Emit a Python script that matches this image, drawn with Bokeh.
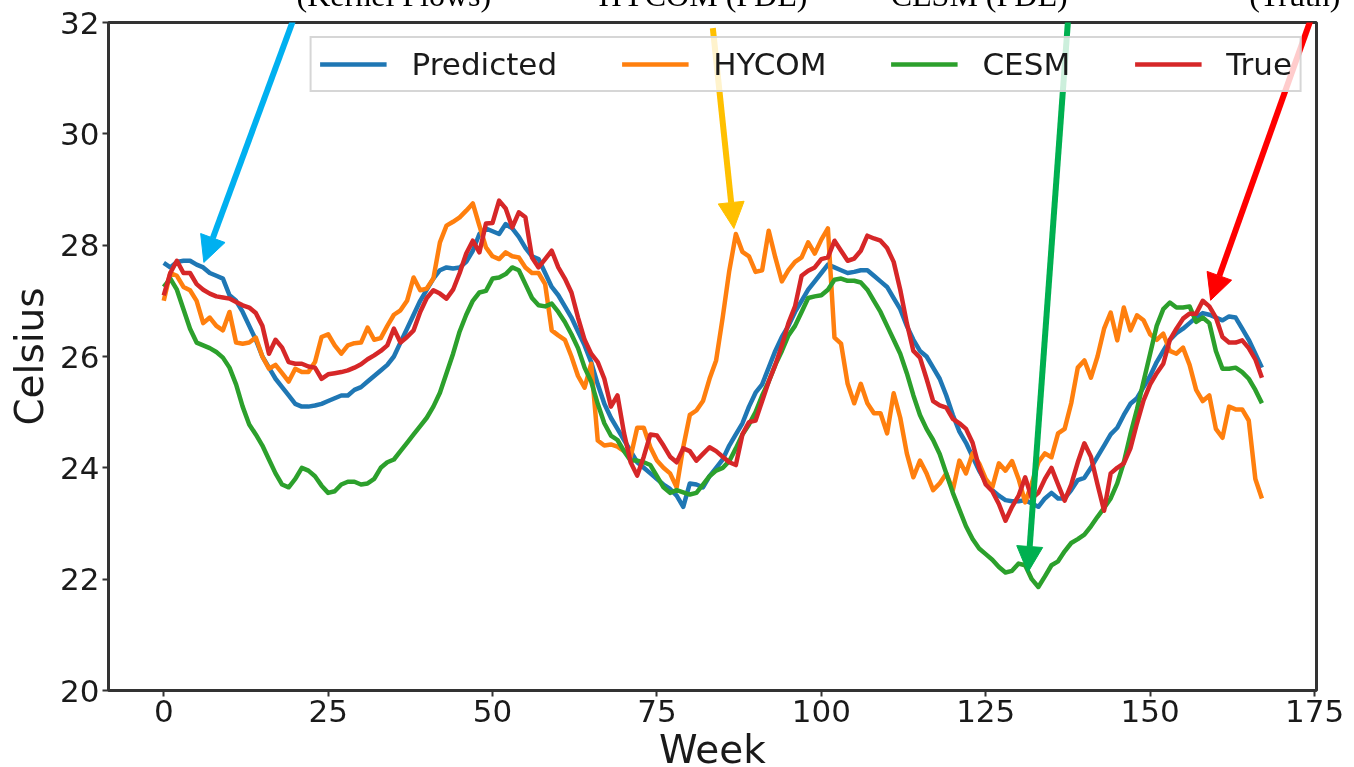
from bokeh.plotting import figure
from bokeh.models import Range1d, Arrow, NormalHead, FixedTicker, Legend, LegendItem, LinearAxis
from bokeh.embed import file_html
from bokeh.resources import INLINE

weeks = list(range(168))

predicted = [
    27.68, 27.6, 27.7, 27.72, 27.72, 27.65, 27.6, 27.5, 27.45, 27.4,
    27.1, 27.0, 26.8, 26.55, 26.3, 26.0, 25.8, 25.6, 25.45, 25.3,
    25.15, 25.1, 25.1, 25.12, 25.15, 25.2, 25.25, 25.3, 25.3, 25.4,
    25.45, 25.55, 25.65, 25.75, 25.85, 26.0, 26.25, 26.5, 26.75, 27.0,
    27.2, 27.4, 27.55, 27.6, 27.58, 27.6, 27.7, 27.9, 28.2, 28.3,
    28.25, 28.2, 28.38, 28.3, 28.15, 27.95, 27.8, 27.75, 27.5, 27.25,
    27.1, 26.9, 26.7, 26.45, 26.2, 25.9, 25.5, 25.15, 24.9, 24.7,
    24.5, 24.3, 24.1, 24.0, 23.9, 23.8, 23.7, 23.62, 23.5, 23.3,
    23.72, 23.7, 23.65, 23.85, 24.0, 24.15, 24.4, 24.6, 24.8, 25.1,
    25.35, 25.5, 25.8, 26.1, 26.35, 26.55, 26.8, 27.0, 27.2, 27.35,
    27.5, 27.65, 27.6, 27.55, 27.5, 27.52, 27.55, 27.55, 27.45, 27.35,
    27.25, 27.05, 26.85, 26.55, 26.3, 26.1, 26.0, 25.8, 25.6, 25.3,
    24.95, 24.65, 24.45, 24.2, 23.95, 23.75, 23.6, 23.5, 23.42, 23.4,
    23.4, 23.42, 23.36, 23.3, 23.45, 23.55, 23.45, 23.45, 23.6, 23.78,
    23.82, 24.0, 24.2, 24.4, 24.6, 24.72, 24.95, 25.15, 25.25, 25.45,
    25.65, 25.9, 26.1, 26.3, 26.42, 26.5, 26.6, 26.7, 26.78, 26.75,
    26.7, 26.65, 26.72, 26.7, 26.5, 26.3, 26.05, 25.8,
]

hycom = [
    27.0, 27.5, 27.45, 27.25, 27.19, 27.0, 26.6, 26.7, 26.55, 26.47,
    26.8, 26.25, 26.23, 26.25, 26.34, 26.0, 25.78, 25.85, 25.7, 25.55,
    25.78, 25.72, 25.72, 25.9, 26.35, 26.4, 26.2, 26.05, 26.2, 26.24,
    26.25, 26.52, 26.3, 26.33, 26.55, 26.75, 26.83, 27.0, 27.42, 27.19,
    27.22, 27.4, 28.05, 28.35, 28.42, 28.5, 28.62, 28.75, 28.35, 27.96,
    27.8, 27.75, 27.87, 27.8, 27.78, 27.6, 27.5, 27.5, 27.3, 26.47,
    26.38, 26.3, 26.0, 25.65, 25.44, 25.87, 24.49, 24.4, 24.42, 24.38,
    24.3, 24.2, 24.72, 24.72, 24.37, 24.13, 24.0, 23.9, 23.65, 24.37,
    24.95, 25.03, 25.2, 25.6, 25.93, 26.7, 27.54, 28.2, 27.88, 27.8,
    27.52, 27.55, 28.26, 27.78, 27.35, 27.55, 27.7, 27.78, 28.05, 27.85,
    28.1, 28.3, 26.34, 26.23, 25.51, 25.16, 25.51, 25.16, 24.98, 24.98,
    24.62, 25.34, 24.9, 24.26, 23.83, 24.13, 23.9, 23.6, 23.72, 23.9,
    23.6, 24.13, 23.9, 24.26, 24.08, 23.8, 23.65, 24.08, 23.95, 24.12,
    23.8, 23.38, 23.72, 24.1, 24.26, 24.19, 24.62, 24.7, 25.16, 25.8,
    25.93, 25.62, 26.0, 26.5, 26.79, 26.29, 26.88, 26.47, 26.74, 26.65,
    26.4, 26.3, 26.41, 26.1, 26.05, 26.16, 25.85, 25.4, 25.2, 25.3,
    24.7, 24.54, 25.1, 25.05, 25.05, 24.85, 23.8, 23.45,
]

cesm = [
    27.25, 27.4, 27.2, 26.85, 26.5, 26.25, 26.2, 26.15, 26.08, 25.98,
    25.8, 25.5, 25.1, 24.78, 24.6, 24.4, 24.15, 23.9, 23.7, 23.65,
    23.8, 24.0, 23.95, 23.85, 23.68, 23.55, 23.58, 23.7, 23.75, 23.75,
    23.7, 23.72, 23.8, 24.0, 24.1, 24.15, 24.3, 24.45, 24.6, 24.75,
    24.9, 25.1, 25.35, 25.7, 26.05, 26.45, 26.75, 27.0, 27.15, 27.18,
    27.4, 27.42, 27.48, 27.6, 27.55, 27.3, 27.05, 26.92, 26.9, 26.95,
    26.8, 26.62, 26.4, 26.15, 25.8, 25.55, 25.15, 24.8, 24.58, 24.5,
    24.3, 24.13, 24.13, 24.1, 24.05, 23.85, 23.65, 23.55, 23.6, 23.56,
    23.52, 23.55, 23.7, 23.85, 23.95, 24.0, 24.12, 24.35, 24.6, 24.78,
    25.0, 25.3, 25.55, 25.85, 26.1, 26.38, 26.55, 26.8, 27.05, 27.08,
    27.1, 27.2, 27.38, 27.4, 27.36, 27.36, 27.33, 27.2, 27.0, 26.8,
    26.55, 26.3, 26.05, 25.7, 25.3, 24.95, 24.7, 24.5, 24.25, 23.9,
    23.55, 23.25, 22.95, 22.72, 22.55, 22.45, 22.35, 22.22, 22.12, 22.15,
    22.28, 22.25, 22.0, 21.86, 22.05, 22.25, 22.32, 22.5, 22.65, 22.72,
    22.8, 22.95, 23.12, 23.28, 23.45, 23.72, 24.1, 24.6, 25.05, 25.55,
    26.05, 26.55, 26.85, 26.97, 26.88, 26.88, 26.9, 26.62, 26.7, 26.6,
    26.1, 25.78, 25.78, 25.8, 25.72, 25.6, 25.4, 25.16,
]

true_vals = [
    27.1, 27.5, 27.72, 27.5, 27.5, 27.3, 27.2, 27.13, 27.08, 27.06,
    27.04, 26.98, 26.92, 26.88, 26.78, 26.55, 26.05, 26.3, 26.16, 25.9,
    25.87, 25.87, 25.82, 25.8, 25.6, 25.68, 25.7, 25.72, 25.75, 25.8,
    25.86, 25.95, 26.02, 26.1, 26.2, 26.5, 26.25, 26.35, 26.47, 26.8,
    27.05, 27.19, 27.13, 27.04, 27.2, 27.5, 27.85, 28.08, 27.87, 28.39,
    28.4, 28.8, 28.66, 28.32, 28.59, 28.5, 27.78, 27.6, 27.75, 27.9,
    27.6, 27.4, 27.15, 26.7, 26.3, 26.05, 25.9, 25.6, 25.1, 25.3,
    24.62, 24.1, 23.86, 24.2, 24.6, 24.58, 24.4, 24.2, 24.1, 24.35,
    24.3, 24.13, 24.25, 24.37, 24.3, 24.2, 24.1, 24.05, 24.6, 24.82,
    24.85, 25.2, 25.55, 25.85, 26.2, 26.6, 26.9, 27.45, 27.54, 27.6,
    27.75, 27.78, 28.08, 27.9, 27.72, 27.76, 27.9, 28.17, 28.12, 28.08,
    27.95, 27.7, 27.2, 26.6, 26.1, 25.98, 25.6, 25.2, 25.12, 25.08,
    24.88, 24.8, 24.7, 24.45, 24.0, 23.7, 23.58, 23.35, 23.05, 23.3,
    23.5, 23.83, 23.45, 23.55, 23.8, 24.0, 23.7, 23.41, 23.7, 24.1,
    24.44, 24.2, 23.7, 23.23, 23.9, 24.0, 24.08, 24.35, 24.8, 25.21,
    25.5, 25.7, 25.87, 26.3, 26.5, 26.68, 26.77, 26.77, 27.0, 26.9,
    26.7, 26.35, 26.25, 26.25, 26.29, 26.15, 25.95, 25.62,
]

series_names = ["Predicted", "HYCOM", "CESM", "True"]
series_colors = ["#1f77b4", "#ff7f0e", "#2ca02c", "#d62728"]
x_ticks = [0, 25, 50, 75, 100, 125, 150, 175]
y_ticks = [20, 22, 24, 26, 28, 30, 32]

# callouts: caption text, caption centre (week), arrow start, arrow tip, colour
callout_texts = ["(Kernel Flows)", "HYCOM (PDE)", "CESM (PDE)", "(Truth)"]
callout_centres = [35, 82, 124, 172]
arrow_starts = [(20.8, 32.4), (83.5, 31.9), (137.6, 32.18), (175.2, 32.31)]
arrow_tips = [(6.1, 27.69), (86.7, 28.3), (131.4, 22.12), (159.2, 27.01)]
arrow_colors = ["#00b0f0", "#ffc000", "#00b050", "#ff0000"]

HIDDEN_TOP = 30     # strip of the figure pushed above the window
HIDDEN_BOTTOM = 24  # strip of the figure below the window

p = figure(width=1354, height=767 + HIDDEN_TOP + HIDDEN_BOTTOM, output_backend="svg",
           toolbar_location=None,
           x_range=Range1d(-8.4, 175.3), y_range=Range1d(20, 32),
           min_border_left=108, min_border_right=38, min_border_top=22 + HIDDEN_TOP,
           min_border_bottom=77 + HIDDEN_BOTTOM)
p.styles = {"position": "fixed", "top": f"-{HIDDEN_TOP}px", "left": "0px"}
p.background_fill_color = "white"
p.border_fill_color = "white"
p.outline_line_color = "#333333"
p.outline_line_width = 3
p.xgrid.visible = False
p.ygrid.visible = False

for ax in (p.xaxis[0], p.yaxis[0]):
    ax.axis_line_color = None
    ax.major_tick_line_color = "#333333"
    ax.major_tick_line_width = 2
    ax.major_tick_out = 6
    ax.major_tick_in = 0
    ax.minor_tick_line_color = None
    ax.major_label_text_font = "DejaVu Sans"
    ax.major_label_text_font_size = "31px"
    ax.major_label_text_color = "#1a1a1a"
    ax.axis_label_text_font = "DejaVu Sans"
    ax.axis_label_text_font_size = "39px"
    ax.axis_label_text_font_style = "normal"
    ax.axis_label_text_color = "#1a1a1a"
p.xaxis.ticker = FixedTicker(ticks=x_ticks)
p.yaxis.ticker = FixedTicker(ticks=y_ticks)
p.xaxis.major_label_standoff = 3
p.yaxis.major_label_standoff = 3
p.xaxis.axis_label = "Week"
p.yaxis.axis_label = "Celsius"
p.xaxis.axis_label_standoff = 2
p.yaxis.axis_label_standoff = 5

# captions above the frame (cut off by the window top, as in the reference)
top_axis = LinearAxis(ticker=FixedTicker(ticks=callout_centres),
                      major_label_overrides={c: t for c, t in zip(callout_centres, callout_texts)},
                      axis_line_color=None, major_tick_line_color=None, minor_tick_line_color=None,
                      major_label_text_font="Liberation Serif", major_label_text_font_size="32px",
                      major_label_text_color="black", major_label_standoff=4)
p.add_layout(top_axis, "above")

renderers = []
for name, col, vals in zip(series_names, series_colors, [predicted, hycom, cesm, true_vals]):
    r = p.line(weeks, vals, line_color=col, line_width=4.5, line_join="round")
    renderers.append((name, r))

legend = Legend(items=[LegendItem(label=n, renderers=[r]) for n, r in renderers],
                orientation="horizontal", location="top_right",
                label_text_font="DejaVu Sans", label_text_font_size="31px",
                label_text_color="#1a1a1a",
                glyph_width=67, glyph_height=30, label_standoff=25, spacing=64,
                padding=8, margin=14, label_height=32,
                border_line_color="#cccccc", border_line_width=2, border_line_alpha=0.8,
                background_fill_alpha=0.8)
p.add_layout(legend, "center")

for (x0, y0), (x1, y1), col in zip(arrow_starts, arrow_tips, arrow_colors):
    p.add_layout(Arrow(x_start=x0, y_start=y0, x_end=x1, y_end=y1, line_color=col, line_width=6,
                       end=NormalHead(size=26, fill_color=col, line_color=col, line_width=1)))

open("out.html", "w").write(file_html(p, INLINE))
